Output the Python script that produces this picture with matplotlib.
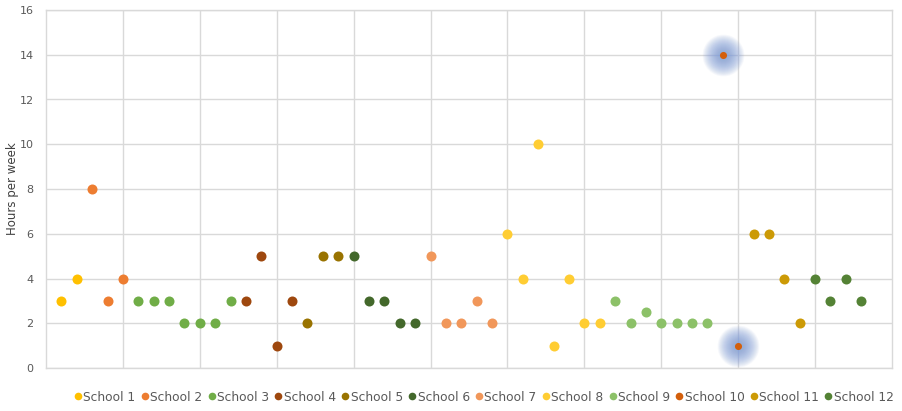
import numpy as np
import matplotlib.pyplot as plt
from matplotlib.lines import Line2D

schools = ["School %d" % i for i in range(1, 13)]
colors = ["#FFC000", "#ED7D31", "#70AD47", "#9E480E", "#997300", "#43682B",
          "#F1975A", "#FFCD33", "#8CC168", "#D35F0C", "#CC9A06", "#548235"]

# hours per week, one list per school, points placed left to right
hours = [
    [3, 4],
    [8, 3, 4],
    [3, 3, 3, 2, 2, 2, 3],
    [3, 5, 1, 3],
    [2, 5, 5],
    [5, 3, 3, 2, 2],
    [5, 2, 2, 3, 2],
    [6, 4, 10, 1, 4, 2, 2],
    [3, 2, 2.5, 2, 2, 2, 2],
    [14, 1],
    [6, 6, 4, 2],
    [4, 3, 4, 3],
]
highlight = "School 10"

fig = plt.figure(figsize=(9.03, 4.11), dpi=100)
ax = fig.add_axes([46 / 903, 1 - 368 / 411, 846 / 903, 358 / 411])

grey = "#D9D9D9"
pos = 0.2
for name, vals, c in zip(schools, hours, colors):
    xs = pos + 0.2 * np.arange(len(vals))
    pos = xs[-1] + 0.2
    if name == highlight:
        # soft blue glow behind the flagged points
        for d in np.linspace(42, 8, 36):
            ax.scatter(xs, vals, s=(d * 0.72) ** 2, color="#7C9BD8",
                       alpha=0.035, linewidths=0, zorder=3)
        ax.scatter(xs, vals, s=26, color=c, linewidths=0, zorder=5)
    else:
        ax.scatter(xs, vals, s=52, color=c, linewidths=0, zorder=5)

ax.set_xlim(0, 11)
ax.set_ylim(0, 16)
ax.set_xticks(np.arange(1, 11))
ax.set_yticks(np.arange(0, 17, 2))
ax.tick_params(axis="x", length=0, labelbottom=False)
ax.tick_params(axis="y", length=0, pad=9, labelsize=8, labelcolor="#595959")
ax.grid(True, color=grey, linewidth=1)
ax.set_axisbelow(True)
for sp in ax.spines.values():
    sp.set_color(grey)
    sp.set_linewidth(1)
ax.set_ylabel("Hours per week", fontsize=8.5, color="#404040")
ax.yaxis.set_label_coords(-27 / 846, 0.5)

handles = [Line2D([], [], marker="o", linestyle="", markersize=5.5,
                  markerfacecolor=c, markeredgewidth=0) for c in colors]
fig.legend(handles, schools, loc="center", bbox_to_anchor=(0.535, 0.034),
           ncol=12, frameon=False, fontsize=8.8, handletextpad=0.0,
           columnspacing=0.3, handlelength=0.9, labelcolor="#595959")

fig.savefig("out.png", dpi=100)
